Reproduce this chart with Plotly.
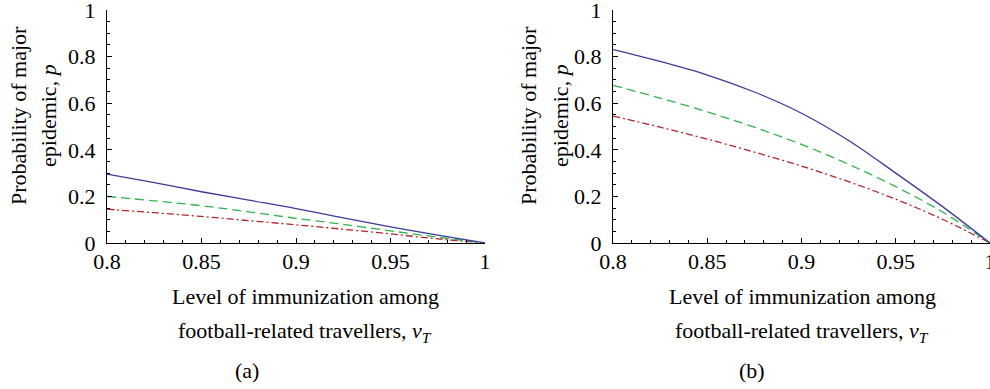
import plotly.graph_objects as go

# ---- data ----
v_T = [0.8, 0.825, 0.85, 0.875, 0.9, 0.925, 0.95, 0.975, 1.0]

# panel (a)
a_solid   = [0.296, 0.259, 0.220, 0.184, 0.148, 0.108, 0.069, 0.034, 0.0]
a_dashed  = [0.200, 0.181, 0.160, 0.134, 0.106, 0.080, 0.052, 0.025, 0.0]
a_dashdot = [0.145, 0.130, 0.114, 0.096, 0.078, 0.059, 0.039, 0.018, 0.0]

# panel (b)
b_solid   = [0.830, 0.779, 0.721, 0.648, 0.557, 0.440, 0.300, 0.155, 0.0]
b_dashed  = [0.677, 0.622, 0.563, 0.497, 0.423, 0.338, 0.242, 0.132, 0.0]
b_dashdot = [0.545, 0.497, 0.446, 0.390, 0.330, 0.263, 0.188, 0.101, 0.0]

x_tickvals = [0.8, 0.85, 0.9, 0.95, 1.0]
x_ticktext = ["0.8", "0.85", "0.9", "0.95", "1"]
y_tickvals = [0, 0.2, 0.4, 0.6, 0.8, 1.0]
y_ticktext = ["0", "0.2", "0.4", "0.6", "0.8", "1"]

ytitle = ["Probability of major", "epidemic, <i>p</i>"]
xtitle = ["Level of immunization among", "football-related travellers, <i>v<sub>T</sub></i>"]
panel_labels = ["(a)", "(b)"]

BLUE = "#3b3b9b"
GREEN = "#2fb34a"
RED = "#b5232a"
FONT = "Liberation Serif, DejaVu Serif"

W, H = 990, 389

fig = go.Figure()

def add_panel(xa, ya, s, d, dd):
    fig.add_trace(go.Scatter(x=v_T, y=dd, mode="lines", xaxis=xa, yaxis=ya,
                             line=dict(color=RED, width=1.3, dash="7px,3px,2px,3px", shape="spline"),
                             showlegend=False, hoverinfo="skip"))
    fig.add_trace(go.Scatter(x=v_T, y=d, mode="lines", xaxis=xa, yaxis=ya,
                             line=dict(color=GREEN, width=1.3, dash="9px,5px", shape="spline"),
                             showlegend=False, hoverinfo="skip"))
    fig.add_trace(go.Scatter(x=v_T, y=s, mode="lines", xaxis=xa, yaxis=ya,
                             line=dict(color=BLUE, width=1.3, shape="spline"),
                             showlegend=False, hoverinfo="skip"))

add_panel("x", "y", a_solid, a_dashed, a_dashdot)
add_panel("x2", "y2", b_solid, b_dashed, b_dashdot)

def px_x(p):
    return p / W

def px_y(p):
    return 1 - p / H

y_dom = [px_y(243), px_y(10)]

xaxis_common = dict(
    range=[0.8, 1.0], tickvals=x_tickvals, ticktext=x_ticktext,
    showline=True, linecolor="black", linewidth=1.3, showgrid=False, zeroline=False,
    ticks="inside", ticklen=5, tickwidth=1, tickcolor="black",
    minor=dict(ticks="inside", ticklen=3, tickwidth=1, tickcolor="black", dtick=0.01, tick0=0.8, showgrid=False),
    tickfont=dict(family=FONT, size=22, color="black"),
    ticklabelstandoff=-2, ticklabeloverflow="allow", automargin=False,
    fixedrange=True,
)
yaxis_common = dict(
    range=[0, 1.0], tickvals=y_tickvals, ticktext=y_ticktext,
    showline=True, linecolor="black", linewidth=1.3, showgrid=False, zeroline=False,
    ticks="inside", ticklen=5, tickwidth=1, tickcolor="black",
    minor=dict(ticks="inside", ticklen=3, tickwidth=1, tickcolor="black", dtick=0.05, tick0=0, showgrid=False),
    tickfont=dict(family=FONT, size=22, color="black"),
    ticklabelstandoff=6, ticklabeloverflow="allow", automargin=False,
    fixedrange=True,
)

fig.update_layout(
    template="none",
    width=W, height=H, autosize=False,
    margin=dict(l=0, r=0, t=0, b=0, autoexpand=False),
    font=dict(family=FONT, size=22, color="black"),
    paper_bgcolor="white", plot_bgcolor="white",
    xaxis=dict(domain=[px_x(107), px_x(485)], anchor="y", **xaxis_common),
    yaxis=dict(domain=y_dom, anchor="x", **yaxis_common),
    xaxis2=dict(domain=[px_x(613), 1.0], anchor="y2", **xaxis_common),
    yaxis2=dict(domain=y_dom, anchor="x2", **yaxis_common),
)

ann = []
tfont = dict(family=FONT, size=22, color="black")
# y titles
for (x1, x2) in [(18, 48), (528, 560)]:
    for xc, txt in zip((x1, x2), ytitle):
        ann.append(dict(x=px_x(xc), y=px_y(116), xref="paper", yref="paper", text=txt,
                        textangle=-90, showarrow=False, xanchor="center", yanchor="middle", font=tfont))
# x titles and panel labels
for xc, lab_x, lab in [(305, 247, panel_labels[0]), (802, 752, panel_labels[1])]:
    ann.append(dict(x=px_x(xc), y=px_y(296), xref="paper", yref="paper", text=xtitle[0],
                    showarrow=False, xanchor="center", yanchor="middle", font=tfont))
    ann.append(dict(x=px_x(xc), y=px_y(332), xref="paper", yref="paper", text=xtitle[1],
                    showarrow=False, xanchor="center", yanchor="middle", font=tfont))
    ann.append(dict(x=px_x(lab_x), y=px_y(370), xref="paper", yref="paper", text=lab,
                    showarrow=False, xanchor="center", yanchor="middle", font=tfont))
fig.update_layout(annotations=ann)

fig.write_html("out.html")
